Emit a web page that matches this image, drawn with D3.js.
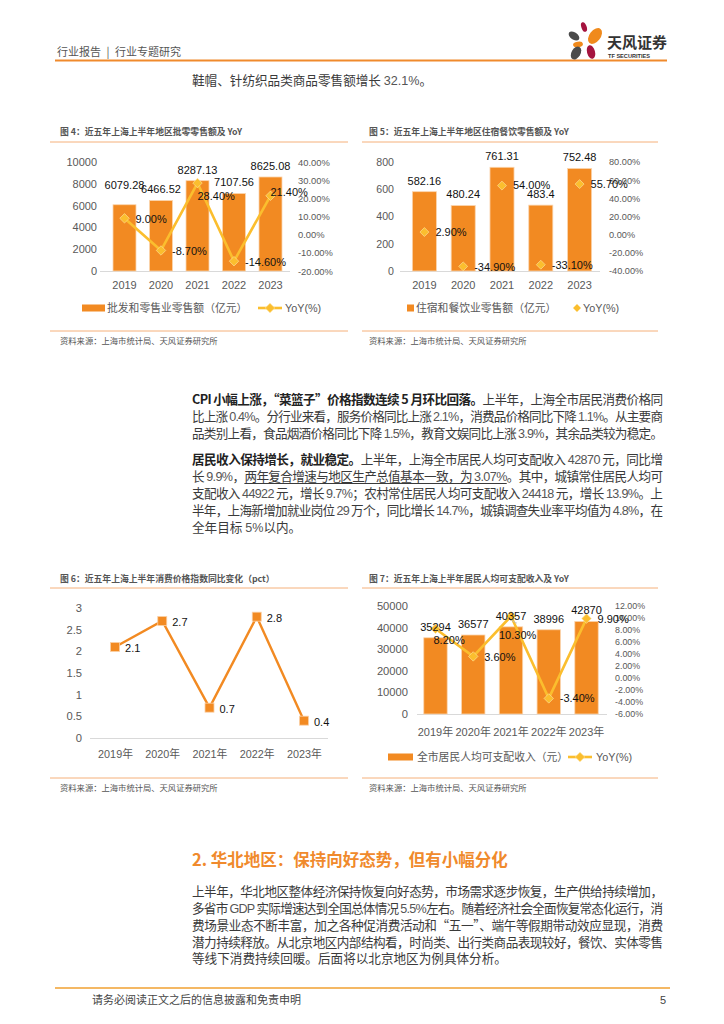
<!DOCTYPE html>
<html><head><meta charset="utf-8">
<script src="https://cdn.jsdelivr.net/npm/d3@7"></script>
<style>
body{margin:0;background:#fff;width:724px;height:1024px;overflow:hidden;position:relative;font-family:"Noto Sans CJK SC","Liberation Sans",sans-serif;}
svg{position:absolute;left:0;top:0}
.ln{position:absolute;left:192px;height:17px;line-height:17px;font-size:12.6px;color:#3a3a3a;white-space:nowrap;}
.ln b{color:#222;}
.u{text-decoration:underline;text-underline-offset:2px;}
.num{font-family:"Liberation Sans",sans-serif;color:#555;}
</style></head><body>
<svg id="pg" width="724" height="1024"></svg>
<div id="txt"></div>
<script>
// ---------- DATA ----------
const years = ["2019","2020","2021","2022","2023"];
const yearsNian = ["2019年","2020年","2021年","2022年","2023年"];
const retailValues = [6079.28, 6466.52, 8287.13, 7107.56, 8625.08];
const retailYoY = [9.0, -8.7, 28.4, -14.6, 21.4];
const retailTicksL = [0,2000,4000,6000,8000,10000];
const retailTicksR = [-20,-10,0,10,20,30,40];
const cateringValues = [582.16, 480.24, 761.31, 483.4, 752.48];
const cateringYoY = [2.9, -34.9, 54.0, -33.1, 55.7];
const cateringTicksL = [0,200,400,600,800];
const cateringTicksR = [-40,-20,0,20,40,60,80];
const cpiValues = [2.1, 2.7, 0.7, 2.8, 0.4];
const cpiTicks = [0,0.5,1,1.5,2,2.5,3];
const incomeValues = [35294, 36577, 40357, 38996, 42870];
const incomeYoY = [8.2, 3.6, 10.3, -3.4, 9.9];
const incomeTicksL = [0,10000,20000,30000,40000,50000];
const incomeTicksR = [-6,-4,-2,0,2,4,6,8,10,12];

const ORANGE = "#F28A22", YELLOW = "#FBBE2E", GRAY = "#595959";
const NUM = "'Liberation Sans','Noto Sans CJK SC',sans-serif";
const svg = d3.select("#pg");

// ---------- header ----------
svg.append("text").attr("x",57).attr("y",52).attr("dy","0.35em").attr("font-size",11).attr("fill","#555")
  .text("行业报告\u2002|\u2002行业专题研究");
svg.append("line").attr("x1",55).attr("x2",667).attr("y1",60.5).attr("y2",60.5).attr("stroke","#F08A2C").attr("stroke-width",2);
const logo = svg.append("g");
[[584,27,2.6,5,-20,"#A5143F"],[574,36,3.6,6,-55,"#4B4B4B"],[595,36,5.5,9,38,"#F08A1C"],
 [578,44.5,5,2.8,-10,"#F08A1C"],[591,52,4,7,-15,"#A5143F"],[576,53,4.5,7,30,"#4B4B4B"]]
 .forEach(p=>logo.append("ellipse").attr("cx",0).attr("cy",0).attr("rx",p[2]).attr("ry",p[3])
   .attr("transform",`translate(${p[0]},${p[1]}) rotate(${p[4]})`).attr("fill",p[5]));
svg.append("text").attr("x",607).attr("y",43).attr("dy","0.35em").attr("font-size",15).attr("font-weight","bold").attr("fill","#333").text("天风证券");
svg.append("text").attr("x",608).attr("y",56).attr("dy","0.35em").attr("font-size",5.6).attr("font-weight","bold").attr("fill","#333").attr("font-family",NUM).text("TF SECURITIES");

// ---------- footer ----------
svg.append("line").attr("x1",55).attr("x2",670).attr("y1",988).attr("y2",988).attr("stroke","#F0A030").attr("stroke-width",1.5);
svg.append("text").attr("x",92).attr("y",1000).attr("dy","0.35em").attr("font-size",11).attr("fill","#444").text("请务必阅读正文之后的信息披露和免责申明");
svg.append("text").attr("x",660).attr("y",1000).attr("dy","0.35em").attr("font-size",11).attr("fill","#444").attr("font-family",NUM).text("5");

// ---------- chart frame (title, rules, source) ----------
function frame(tx, lx0, lx1, ty, ly, sy, title){
  svg.append("text").attr("x",tx).attr("y",ty).attr("dy","0.35em").attr("font-size",8.8).attr("font-weight","bold").attr("fill","#555").text(title);
  svg.append("line").attr("x1",lx0).attr("x2",lx1).attr("y1",ly).attr("y2",ly).attr("stroke","#F5B07A").attr("stroke-width",1);
  svg.append("line").attr("x1",lx0).attr("x2",lx1).attr("y1",sy).attr("y2",sy).attr("stroke","#F5B07A").attr("stroke-width",1);
  svg.append("text").attr("x",tx).attr("y",sy+10).attr("dy","0.35em").attr("font-size",8.3).attr("fill","#555").text("资料来源：上海市统计局、天风证券研究所");
}
frame(60,50,348,132,142,331,"图 4：近五年上海上半年地区批零零售额及 YoY");
frame(369,362,658,132,142,331,"图 5：近五年上海上半年地区住宿餐饮零售额及 YoY");
frame(60,50,348,579,588,778,"图 6：近五年上海上半年消费价格指数同比变化（pct）");
frame(369,362,658,579,588,778,"图 7：近五年上海上半年居民人均可支配收入及 YoY");

function diamond(g, cx, cy, s){
  g.append("path").attr("d",d3.symbol(d3.symbolSquare, s)()).attr("transform",`translate(${cx},${cy}) rotate(45)`)
   .attr("fill",YELLOW).attr("stroke","#FDE3A0").attr("stroke-width",0.6);
}

// ---------- combo bar + yoy chart ----------
function combo(c){
  const g = svg.append("g");
  const x = d3.scaleBand().domain(c.cats).range([c.x0,c.x1]).paddingInner(c.pi).paddingOuter(c.pi/2);
  const yL = d3.scaleLinear().domain(c.domL).range([c.base,c.top]);
  const yR = d3.scaleLinear().domain(c.domR).range([c.base,c.top]);
  const cx = i => x(c.cats[i]) + x.bandwidth()/2;

  g.append("g").attr("transform",`translate(${c.lx},0)`)
    .call(d3.axisLeft(yL).tickValues(c.tL).tickSize(0).tickPadding(0).tickFormat(d3.format("d")))
    .call(a=>a.select(".domain").remove())
    .selectAll("text").attr("fill",GRAY).attr("font-size",c.fsL).attr("font-family",NUM);
  g.append("g").attr("transform",`translate(${c.rx},0)`)
    .call(d3.axisRight(yR).tickValues(c.tR).tickSize(0).tickPadding(0).tickFormat(d=>d.toFixed(2)+"%"))
    .call(a=>a.select(".domain").remove())
    .selectAll("text").attr("fill",GRAY).attr("font-size",c.fsR).attr("font-family",NUM);
  g.append("g").attr("transform",`translate(0,${c.base})`)
    .call(d3.axisBottom(x).tickSize(0))
    .call(a=>a.select(".domain").remove())
    .selectAll("text").attr("y",c.xlabY-c.base).attr("dy","0.35em").attr("fill",GRAY).attr("font-size",c.fsX).attr("font-family",NUM);
  g.append("line").attr("x1",c.ax0).attr("x2",c.ax1).attr("y1",c.base+0.5).attr("y2",c.base+0.5).attr("stroke","#d9d9d9");

  g.selectAll("rect.bar").data(c.bars).join("rect").attr("class","bar")
    .attr("x",(d,i)=>x(c.cats[i])).attr("width",x.bandwidth())
    .attr("y",d=>yL(d)).attr("height",d=>c.base-yL(d))
    .attr("fill",ORANGE).attr("stroke","#FBD5AE").attr("stroke-width",0.8);

  if(c.line){
    g.append("path").datum(c.yoy).attr("fill","none").attr("stroke",YELLOW).attr("stroke-width",2.6)
      .attr("stroke-linejoin","round")
      .attr("d",d3.line().x((d,i)=>cx(i)).y(d=>yR(d)));
  }
  c.yoy.forEach((d,i)=>diamond(g,cx(i),yR(d),c.ds));

  if(c.leader){
    const L = c.leader;
    g.append("line").attr("x1",cx(L.i)+L.d[0]).attr("y1",yR(c.yoy[L.i])+L.d[1]).attr("x2",cx(L.i)+L.d[2]).attr("y2",yR(c.yoy[L.i])+L.d[3])
      .attr("stroke","#bfbfbf").attr("stroke-width",0.8);
  }

  g.selectAll("text.bv").data(c.bars).join("text").attr("class","bv")
    .attr("x",(d,i)=>cx(i)).attr("y",(d,i)=>yL(d)-11+c.barNudge[i]).attr("dy","0.35em")
    .attr("text-anchor","middle").attr("font-size",c.fsV).attr("font-family",NUM).attr("fill","#111")
    .text(d=>d);
  g.selectAll("text.yv").data(c.yoy).join("text").attr("class","yv")
    .attr("x",(d,i)=>cx(i)+c.yoyOff[i][0]).attr("y",(d,i)=>yR(d)+c.yoyOff[i][1]).attr("dy","0.35em")
    .attr("font-size",c.fsV).attr("font-family",NUM).attr("fill","#111")
    .text(d=>d.toFixed(2)+"%");

  // legend
  const lg = c.leg;
  g.append("rect").attr("x",lg.rx).attr("y",lg.y-3.5).attr("width",lg.rectW).attr("height",7).attr("fill",ORANGE);
  g.append("text").attr("x",lg.tx).attr("y",lg.y).attr("dy","0.35em").attr("font-size",10.8).attr("fill",GRAY).text(lg.label);
  if(c.line){
    g.append("line").attr("x1",lg.lx).attr("x2",lg.lx+24).attr("y1",lg.y).attr("y2",lg.y).attr("stroke",YELLOW).attr("stroke-width",2.6);
    diamond(g,lg.lx+12,lg.y,c.ds);
  } else {
    diamond(g,lg.lx,lg.y,c.ds*0.8);
  }
  g.append("text").attr("x",lg.ltx).attr("y",lg.y).attr("dy","0.35em").attr("font-size",10.8).attr("font-family",NUM).attr("fill",GRAY).text("YoY(%)");
}

combo({cats:years,bars:retailValues,yoy:retailYoY,domL:[0,10000],domR:[-20,40],tL:retailTicksL,tR:retailTicksR,
  top:162,base:271,x0:106.25,x1:288.75,pi:0.37,ax0:100,ax1:290,lx:97,rx:298,xlabY:285,
  fsL:11,fsR:9.4,fsX:11,fsV:11,ds:45,line:true,
  barNudge:[-9,0,0,0,0],yoyOff:[[11,1],[11,1],[0,13],[11,1],[0,-4]],
  leg:{y:308,rx:82,rectW:23,tx:107,label:"批发和零售业零售额（亿元）",lx:258,ltx:285}});

combo({cats:years,bars:cateringValues,yoy:cateringYoY,domL:[0,800],domR:[-40,80],tL:cateringTicksL,tR:cateringTicksR,
  top:162,base:271,x0:405,x1:599,pi:0.38,ax0:400,ax1:600,lx:394,rx:609,xlabY:285,
  fsL:10.6,fsR:9.2,fsX:11,fsV:11,ds:40,line:false,
  barNudge:[0,0,0,0,0],yoyOff:[[11,0],[11,1],[11,0],[11,0],[11,0]],
  leg:{y:308,rx:407,rectW:7,tx:416,label:"住宿和餐饮业零售额（亿元）",lx:577,ltx:583}});

combo({cats:yearsNian,bars:incomeValues,yoy:incomeYoY,domL:[0,50000],domR:[-6,12],tL:incomeTicksL,tR:incomeTicksR,
  top:606,base:714,x0:416.6,x1:605.4,pi:0.38,ax0:417,ax1:607,lx:408,rx:615,xlabY:732,
  fsL:11.2,fsR:8.9,fsX:11,fsV:11,ds:45,line:true,
  barNudge:[0,0,0,0,0],yoyOff:[[-2,11],[11,1],[-12,19],[11,0],[11,1]],
  leader:{i:2,d:[-2,3,6,7]},
  leg:{y:757,rx:388,rectW:25,tx:417,label:"全市居民人均可支配收入（元）",lx:568,ltx:596}});

// ---------- CPI line chart ----------
(function(){
  const g = svg.append("g");
  const x = d3.scalePoint().domain(yearsNian).range([91.4,327.6]).padding(0.5);
  const y = d3.scaleLinear().domain([0,3]).range([738,608]);
  g.append("g").attr("transform","translate(82,0)")
    .call(d3.axisLeft(y).tickValues(cpiTicks).tickSize(0).tickPadding(0).tickFormat(d=>String(d)))
    .call(a=>a.select(".domain").remove())
    .selectAll("text").attr("fill",GRAY).attr("font-size",11.2).attr("font-family",NUM);
  g.append("g").attr("transform","translate(0,738)")
    .call(d3.axisBottom(x).tickSize(0))
    .call(a=>a.select(".domain").remove())
    .selectAll("text").attr("y",16).attr("dy","0.35em").attr("fill",GRAY).attr("font-size",10.8).attr("font-family",NUM);
  g.append("line").attr("x1",90).attr("x2",328).attr("y1",738.5).attr("y2",738.5).attr("stroke","#d9d9d9");
  g.append("path").datum(cpiValues).attr("fill","none").attr("stroke",ORANGE).attr("stroke-width",2.4)
    .attr("d",d3.line().x((d,i)=>x(yearsNian[i])).y(d=>y(d)));
  g.selectAll("rect.m").data(cpiValues).join("rect").attr("class","m")
    .attr("x",(d,i)=>x(yearsNian[i])-4.5).attr("y",d=>y(d)-4.5).attr("width",9).attr("height",9)
    .attr("fill",ORANGE).attr("stroke","#FBD0A6").attr("stroke-width",0.8);
  g.selectAll("text.v").data(cpiValues).join("text").attr("class","v")
    .attr("x",(d,i)=>x(yearsNian[i])+10).attr("y",d=>y(d)+1).attr("dy","0.35em")
    .attr("font-size",11).attr("font-family",NUM).attr("fill","#111").text(d=>d);
})();

// ---------- body text ----------
const lines = [
  {y:79, h:'鞋帽、针纺织品类商品零售额增长 <span class="num">32.1%</span>。', j:false},
  {y:398, h:'<b>CPI 小幅上涨，“菜篮子”价格指数连续 5 月环比回落。</b>上半年，上海全市居民消费价格同', j:true},
  {y:415, h:'比上涨 <span class="num">0.4%</span>。分行业来看，服务价格同比上涨 <span class="num">2.1%</span>，消费品价格同比下降 <span class="num">1.1%</span>。从主要商', j:true},
  {y:432, h:'品类别上看，食品烟酒价格同比下降 <span class="num">1.5%</span>，教育文娱同比上涨 <span class="num">3.9%</span>，其余品类较为稳定。', j:true},
  {y:458, h:'<b>居民收入保持增长，就业稳定。</b>上半年，上海全市居民人均可支配收入 <span class="num">42870</span> 元，同比增', j:true},
  {y:475, h:'长 <span class="num">9.9%</span>，<span class="u">两年复合增速与地区生产总值基本一致，为 <span class="num">3.07%</span></span>。其中，城镇常住居民人均可', j:true},
  {y:492, h:'支配收入 <span class="num">44922</span> 元，增长 <span class="num">9.7%</span>；农村常住居民人均可支配收入 <span class="num">24418</span> 元，增长 <span class="num">13.9%</span>。上', j:true},
  {y:509, h:'半年，上海新增加就业岗位 <span class="num">29</span> 万个，同比增长 <span class="num">14.7%</span>，城镇调查失业率平均值为 <span class="num">4.8%</span>，在', j:true},
  {y:526, h:'全年目标 <span class="num">5%</span>以内。', j:false},
  {y:890, h:'上半年，华北地区整体经济保持恢复向好态势，市场需求逐步恢复，生产供给持续增加，', j:true},
  {y:907, h:'多省市 <span class="num">GDP</span> 实际增速达到全国总体情况 <span class="num">5.5%</span>左右。随着经济社会全面恢复常态化运行，消', j:true},
  {y:924, h:'费场景业态不断丰富，加之各种促消费活动和“五一”、端午等假期带动效应显现，消费', j:true},
  {y:941, h:'潜力持续释放。从北京地区内部结构看，时尚类、出行类商品表现较好，餐饮、实体零售', j:true},
  {y:957, h:'等线下消费持续回暖。后面将以北京地区为例具体分析。', j:false}
];
const LINE_W = 471;
const txt = d3.select("#txt");
lines.forEach(l=>{
  const d = txt.append("div").attr("class","ln").style("top",(l.y-8.5)+"px").html(l.h);
  if(l.j){
    const node = d.node();
    const w = node.getBoundingClientRect().width;
    const n = node.textContent.length;
    const ls = (LINE_W - w)/(n-1);
    d.style("letter-spacing", ls+"px");
  }
});
svg.append("text").attr("x",192).attr("y",860).attr("dy","0.35em").attr("font-size",16.5).attr("font-weight","bold")
  .attr("fill","#F08A2C").text("2. 华北地区：保持向好态势，但有小幅分化");
</script>
</body></html>
